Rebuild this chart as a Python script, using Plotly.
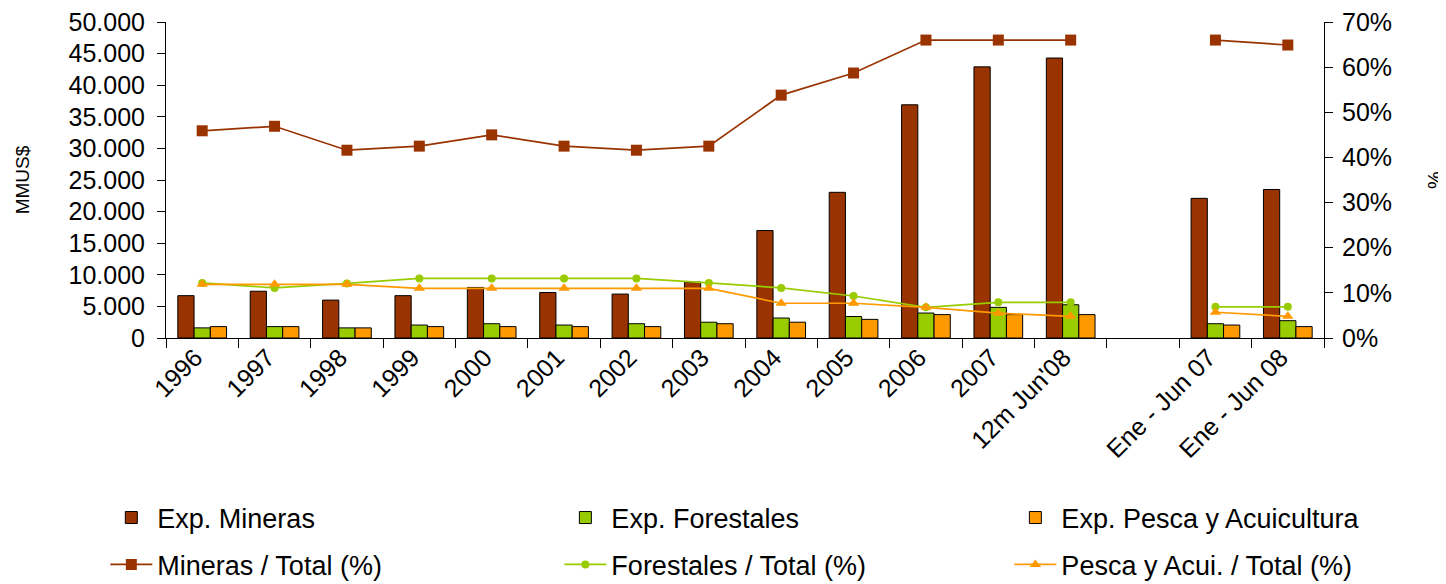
import plotly.graph_objects as go

categories = ["1996", "1997", "1998", "1999", "2000", "2001", "2002", "2003", "2004",
              "2005", "2006", "2007", "12m Jun'08", " ", "Ene - Jun 07", "Ene - Jun 08"]

exp_mineras = [6700, 7400, 6000, 6700, 8000, 7200, 6950, 8850, 17000,
               23050, 36900, 42900, 44300, None, 22100, 23500]
exp_forestales = [1600, 1800, 1600, 2050, 2260, 2050, 2260, 2500, 3160,
                  3400, 3950, 4850, 5260, None, 2260, 2740]
exp_pesca = [1800, 1800, 1600, 1800, 1800, 1800, 1800, 2260, 2500,
             2950, 3700, 3700, 3700, None, 2050, 1800]

pct_mineras = [45.9, 46.9, 41.6, 42.5, 45.0, 42.5, 41.6, 42.5, 53.8,
               58.7, 66.0, 66.0, 66.0, None, 66.0, 64.9]
pct_forestales = [12.2, 11.1, 12.1, 13.2, 13.2, 13.2, 13.2, 12.2, 11.1,
                  9.3, 6.8, 7.9, 7.9, None, 6.9, 6.9]
pct_pesca = [11.9, 11.9, 11.9, 11.0, 11.0, 11.0, 11.0, 11.0, 7.7,
             7.7, 6.8, 5.5, 4.8, None, 5.7, 4.8]

C_MIN = "#993300"
C_FOR = "#99CC00"
C_PES = "#FF9900"
FONT = "Liberation Sans, Arial, sans-serif"

fig = go.Figure()
bar_specs = [("Exp. Mineras", exp_mineras, C_MIN, "legend"),
             ("Exp. Forestales", exp_forestales, C_FOR, "legend2"),
             ("Exp. Pesca y Acuicultura", exp_pesca, C_PES, "legend3")]
for name, vals, col, lg in bar_specs:
    fig.add_trace(go.Bar(x=categories, y=vals, name=name, marker_color=col,
                         marker_line_color="black", marker_line_width=1,
                         legend=lg))

line_specs = [("Mineras / Total (%)", pct_mineras, C_MIN, "square", 11, "legend4"),
              ("Forestales / Total (%)", pct_forestales, C_FOR, "circle", 8, "legend5"),
              ("Pesca y Acui. / Total (%)", pct_pesca, C_PES, "triangle-up", 10, "legend6")]
for name, vals, col, sym, size, lg in line_specs:
    fig.add_trace(go.Scatter(x=categories, y=vals, name=name, yaxis="y2",
                             mode="lines+markers", connectgaps=False,
                             line=dict(color=col, width=1.7),
                             marker=dict(color=col, symbol=sym, size=size),
                             legend=lg))

# legend placement (paper coords relative to plot area)
col_x = [-0.0524, 0.3397, 0.7283]
row_y = [-0.5696, -0.718]
legends = {}
names = ["legend", "legend2", "legend3", "legend4", "legend5", "legend6"]
for i, lname in enumerate(names):
    legends[lname] = dict(orientation="v", x=col_x[i % 3], xanchor="left",
                          y=row_y[i // 3], yanchor="middle",
                          font=dict(size=27), bgcolor="rgba(0,0,0,0)",
                          itemwidth=42)

fig.update_layout(
    width=1438, height=576,
    margin=dict(l=158, r=122, t=14, b=246, autoexpand=False),
    paper_bgcolor="white", plot_bgcolor="white",
    font=dict(family=FONT, size=25, color="black"),
    separators=",.",
    barmode="group", bargap=0.327, bargroupgap=0,
    showlegend=True,
    xaxis=dict(type="category", categoryorder="array", categoryarray=categories,
               range=[-0.5, len(categories) - 0.5],
               showline=True, linecolor="black", linewidth=1,
               ticks="outside", tickson="boundaries", ticklen=9, tickcolor="black",
               tickangle=-45, showgrid=False, tickfont=dict(size=25),
               ticklabelshift=-7, ticklabelstandoff=-6),
    yaxis=dict(range=[0, 50000], dtick=5000, tickformat=",.0f",
               showline=True, linecolor="black", linewidth=1,
               ticks="outside", ticklen=8, tickcolor="black", showgrid=False,
               zeroline=False, tickfont=dict(size=25),
               ticklabelstandoff=7, ticklabeloverflow="allow",
               title=dict(text="MMUS$", font=dict(size=19), standoff=33)),
    yaxis2=dict(range=[0, 70], dtick=10, ticksuffix="%", overlaying="y", side="right",
                showline=True, linecolor="black", linewidth=1,
                ticks="outside", ticklen=8, tickcolor="black", showgrid=False,
                zeroline=False, tickfont=dict(size=25),
                ticklabelstandoff=4, ticklabeloverflow="allow",
                title=dict(text="%", font=dict(size=20), standoff=37)),
    **legends,
)

fig.write_html("out.html")
